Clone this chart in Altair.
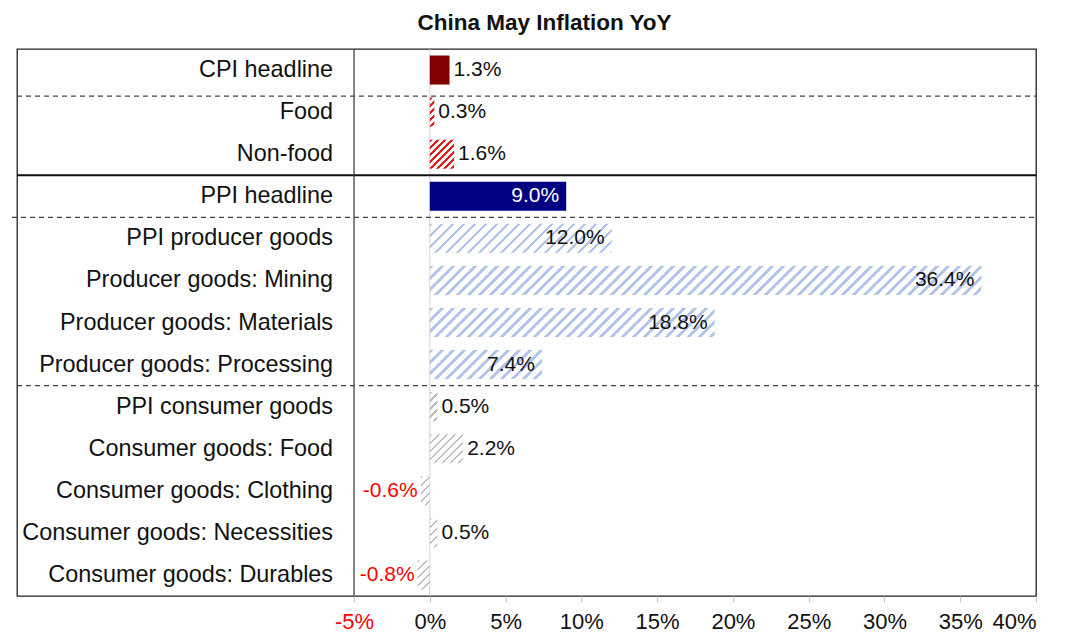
import altair as alt
import pandas as pd

# ---------------- data ----------------
categories = [
    "CPI headline", "Food", "Non-food", "PPI headline",
    "PPI producer goods", "Producer goods: Mining", "Producer goods: Materials",
    "Producer goods: Processing", "PPI consumer goods", "Consumer goods: Food",
    "Consumer goods: Clothing", "Consumer goods: Necessities", "Consumer goods: Durables",
]
values = [1.3, 0.3, 1.6, 9.0, 12.0, 36.4, 18.8, 7.4, 0.5, 2.2, -0.6, 0.5, -0.8]
tick_values = [-5, 0, 5, 10, 15, 20, 25, 30, 35, 40]

solid_groups = {"CPI headline": "#800000", "PPI headline": "#000080"}
red_hatch = ["Food", "Non-food"]
blue_hatch = ["PPI producer goods", "Producer goods: Mining",
              "Producer goods: Materials", "Producer goods: Processing"]
grey_hatch = ["PPI consumer goods", "Consumer goods: Food", "Consumer goods: Clothing",
              "Consumer goods: Necessities", "Consumer goods: Durables"]
inside_labels = ["PPI headline"] + blue_hatch

df = pd.DataFrame({"cat": categories, "val": values})
df["label"] = df["val"].map(lambda v: f"{v:.1f}%")
df["place"] = [
    "neg" if v < 0 else ("in" if c in inside_labels else "out")
    for c, v in zip(categories, values)
]

# ---------------- layout ----------------
W_VIEW, H_VIEW = 1019, 547
X_MIN, X_MAX = -27.24, 40
PPU = W_VIEW / (X_MAX - X_MIN)
BAND = 0.69
BAR_H = H_VIEW / len(categories) * BAND
FONT = "Liberation Sans, Arial, sans-serif"

xscale = alt.Scale(domain=[X_MIN, X_MAX], nice=False, zero=False)
xaxis = alt.Axis(
    values=tick_values, title=None, domain=False, grid=False,
    ticks=True, tickColor="#c8c8c8", tickSize=6, tickWidth=1,
    labelExpr="datum.value + '%'",
    labelColor={"expr": "datum.value < 0 ? '#ff0000' : '#111111'"},
    labelFont=FONT, labelFontSize=22, labelPadding=9,
)
yscale = alt.Scale(domain=categories, paddingInner=0, paddingOuter=0)
yenc = alt.Y("cat:N", scale=yscale, axis=None)
X = alt.X("val:Q", scale=xscale, axis=xaxis)


def hatch(color, width_px, height_px, period=8.0, frac=0.35):
    r = height_px / width_px
    s = (1 + r) / (1 + r * r)
    n = (width_px + height_px) / period
    stops = []
    k = 0
    clear = "rgba(255,255,255,0)"
    while k < n:
        a = min(k / n, 1.0)
        b = min((k + frac) / n, 1.0)
        c = min((k + 1) / n, 1.0)
        stops += [(a, color), (b, color), (b, clear), (c, clear)]
        k += 1
    return alt.LinearGradient(
        gradient="linear",
        stops=[alt.GradientStop(offset=o, color=col) for o, col in stops],
        x1=0, y1=0, x2=s, y2=s * r,
    )


base = alt.Chart(df)
layers = []

# zero line
layers.append(
    alt.Chart(df).mark_rule(color="#d4d4d4", strokeWidth=1).encode(
        x=alt.X(datum=0, scale=xscale, axis=xaxis)
    ).transform_filter(alt.datum.cat == categories[0])
)

# solid bars
for c, col in solid_groups.items():
    layers.append(
        base.transform_filter(alt.datum.cat == c)
        .mark_bar(color=col, height=alt.RelativeBandSize(band=BAND))
        .encode(x=X, x2=alt.X2(datum=0), y=yenc)
    )

# hatched bars
for group, col, period, frac in (
    (red_hatch, "#e41c1c", 7.0, 0.38),
    (blue_hatch, "#b0c4ec", 11.0, 0.3),
    (grey_hatch, "#bdbdbd", 8.0, 0.35),
):
    for c in group:
        v = values[categories.index(c)]
        grad = hatch(col, abs(v) * PPU, BAR_H, period, frac)
        layers.append(
            base.transform_filter(alt.datum.cat == c)
            .mark_bar(color=grad, height=alt.RelativeBandSize(band=BAND))
            .encode(x=X, x2=alt.X2(datum=0), y=yenc)
        )

# separators
ysep = alt.Y("cat:N", bandPosition=0, scale=yscale, axis=None)
dash_style = dict(color="#444444", strokeWidth=1.2, strokeDash=[5, 4])
layers.append(
    alt.Chart(pd.DataFrame({"cat": ["Food"]})).mark_rule(yOffset=5, **dash_style).encode(
        y=ysep, x=alt.value(0), x2=alt.value(W_VIEW)
    )
)
layers.append(
    alt.Chart(pd.DataFrame({"cat": ["PPI producer goods"]})).mark_rule(**dash_style).encode(
        y=ysep, x=alt.value(-5), x2=alt.value(W_VIEW)
    )
)
layers.append(
    alt.Chart(pd.DataFrame({"cat": ["PPI consumer goods"]})).mark_rule(**dash_style).encode(
        y=ysep, x=alt.value(0), x2=alt.value(W_VIEW + 4)
    )
)
layers.append(
    alt.Chart(pd.DataFrame({"cat": ["PPI headline"]})).mark_rule(color="#111111", strokeWidth=1.8).encode(
        y=ysep, x=alt.value(0), x2=alt.value(W_VIEW)
    )
)

# vertical divider at -5
layers.append(
    alt.Chart(df).mark_rule(color="#333333", strokeWidth=1.2).encode(
        x=alt.X(datum=-5, scale=xscale, axis=xaxis)
    ).transform_filter(alt.datum.cat == categories[0])
)

# category labels
layers.append(
    base.mark_text(align="right", baseline="middle", dx=-21, font=FONT, fontSize=23.4,
                   color="#111111").encode(
        x=alt.X(datum=-5, scale=xscale, axis=xaxis), y=yenc, text="cat:N"
    )
)

# value labels
layers.append(
    base.transform_filter(alt.datum.place == "out")
    .mark_text(align="left", baseline="middle", dx=4, font=FONT, fontSize=21, color="#111111")
    .encode(x=X, y=yenc, text="label:N")
)
layers.append(
    base.transform_filter(alt.datum.place == "in")
    .mark_text(align="right", baseline="middle", dx=-7, font=FONT, fontSize=21)
    .encode(
        x=X, y=yenc, text="label:N",
        color=alt.condition(alt.datum.cat == "PPI headline", alt.value("white"), alt.value("#111111")),
    )
)
layers.append(
    base.transform_filter(alt.datum.place == "neg")
    .mark_text(align="right", baseline="middle", dx=-3, font=FONT, fontSize=21, color="#ff0000")
    .encode(x=X, y=yenc, text="label:N")
)

chart = (
    alt.layer(*layers)
    .properties(
        width=W_VIEW, height=H_VIEW,
        title=alt.TitleParams("China May Inflation YoY", font=FONT, fontSize=22.5,
                              fontWeight="bold", color="#111111", anchor="middle",
                              dx=18, offset=14),
        autosize=alt.AutoSizeParams(type="none"),
        padding={"left": 9, "top": 41, "right": 36, "bottom": 38},
    )
    .configure_view(stroke="#222222", strokeWidth=1.3)
)

chart.save("out.html", embed_options={"renderer": "svg", "actions": False})
